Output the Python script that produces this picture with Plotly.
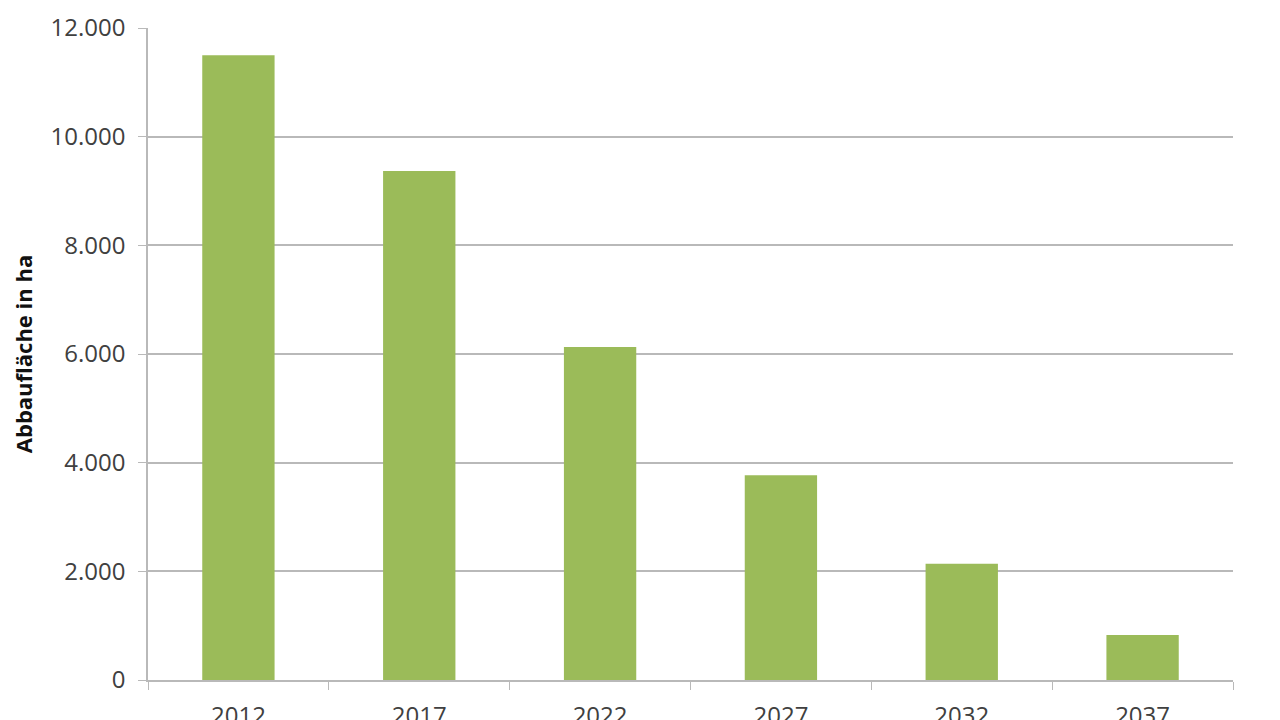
import plotly.graph_objects as go

# Abbaufläche je Stichjahr (ha)
years = ["2012", "2017", "2022", "2027", "2032", "2037"]
area_ha = [11500, 9370, 6130, 3770, 2140, 830]

y_ticks = [0, 2000, 4000, 6000, 8000, 10000, 12000]

_BAR_COLOR = "#9bbb59"
_GRID_COLOR = "#b9b9b9"
_TEXT_COLOR = "#404040"
_FONT = "Open Sans"

fig = go.Figure()
fig.add_bar(
    x=years,
    y=area_ha,
    marker={"color": _BAR_COLOR, "line": {"width": 0}},
)

# the page body adds 8px around the figure, margins compensate for it
fig.update_layout(
    width=1280,
    height=720,
    margin={"l": 140, "r": 55, "t": 20, "b": 48},
    paper_bgcolor="white",
    plot_bgcolor="white",
    bargap=0.6,
    showlegend=False,
    separators=",.",
    font={"family": _FONT, "size": 24, "color": _TEXT_COLOR},
)
fig.update_xaxes(
    type="category",
    automargin=False,
    showgrid=False,
    showline=True,
    linecolor=_GRID_COLOR,
    linewidth=1.5,
    ticks="outside",
    tickson="boundaries",
    ticklen=8,
    tickcolor=_GRID_COLOR,
    ticklabelstandoff=13,
    tickfont={"size": 24, "color": _TEXT_COLOR},
)
fig.update_yaxes(
    range=[0, 12000],
    automargin=False,
    tickvals=y_ticks,
    tickformat=",d",
    showgrid=True,
    gridcolor=_GRID_COLOR,
    gridwidth=1.5,
    showline=True,
    linecolor=_GRID_COLOR,
    linewidth=1.5,
    ticks="outside",
    ticklen=8,
    tickcolor=_GRID_COLOR,
    ticklabelstandoff=8,
    tickfont={"size": 24, "color": _TEXT_COLOR},
    zeroline=False,
    title={
        "text": "<b>Abbaufläche in ha</b>",
        "font": {"size": 22, "color": "#111111"},
        "standoff": 13,
    },
)

fig.write_html("out.html")
